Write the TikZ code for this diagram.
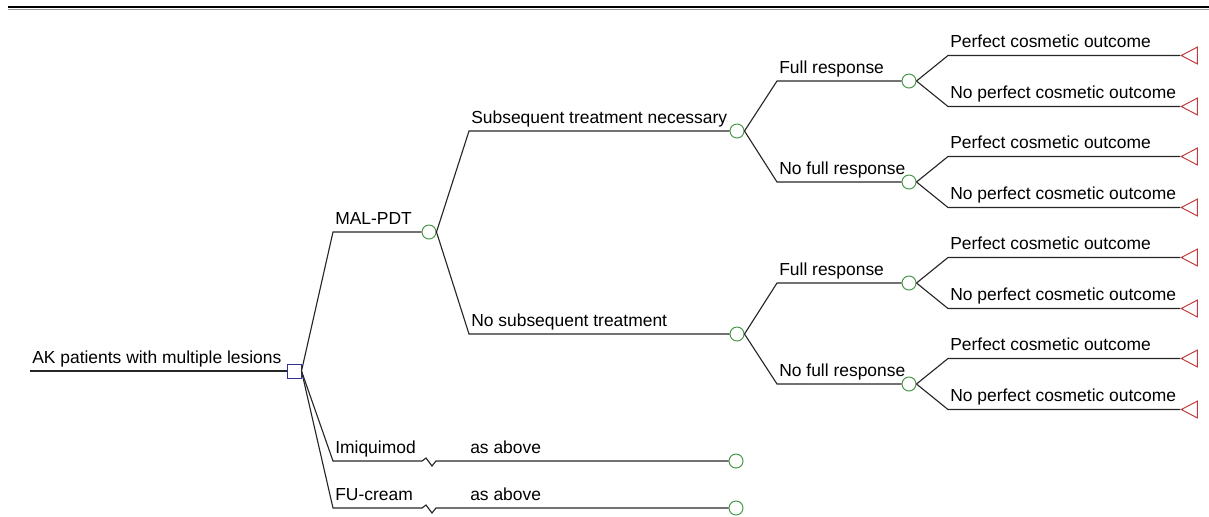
\documentclass[tikz,border=0pt]{standalone}
\usepackage{fontspec}
\setmainfont{Liberation Sans}
\definecolor{ChanceColor}{RGB}{70,150,70}
\definecolor{DecisionColor}{RGB}{50,50,150}
\definecolor{TerminalColor}{RGB}{190,60,60}
\definecolor{RuleGrey}{RGB}{150,150,150}
\usetikzlibrary{shapes.geometric, calc}
\tikzset{
    branch/.style={line width=0.8pt, draw=black!85},
    chance/.style={circle, draw=ChanceColor, line width=0.7pt, minimum size=0.35cm, inner sep=0pt},
    decision/.style={rectangle, draw=DecisionColor, line width=0.7pt, minimum size=0.35cm, inner sep=0pt},
    terminal/.style={isosceles triangle, shape border rotate=180, isosceles triangle stretches,
        draw=TerminalColor, line width=0.7pt, minimum height=0.4cm, minimum width=0.42cm, inner sep=0pt},
    lbl/.style={anchor=base west, inner sep=0pt, xshift=0.05cm, yshift=0.2cm,
        font=\fontsize{12.4}{15}\selectfont}
}

\begin{document}
\begin{tikzpicture}[x=0.025cm, y=-0.025cm]
        \useasboundingbox (0,0) rectangle (1209,516);
        
        % rule at the top
        \draw[line width=1.5pt] (8,7) -- (1209,7);
        \draw[RuleGrey, line width=0.4pt] (8,9.5) -- (1209,9.5);
        
        % root
        \coordinate (start) at (30,371);
        \node[decision] (dec) at (294,371) {};
        \draw[branch] (start) -- (dec);
        \node[lbl] at (start) {AK patients with multiple lesions};
        
        % MAL-PDT
        \coordinate (cPdt) at (333,232);
        \node[chance] (pdt) at (429,232) {};
        \draw[branch] (dec.east) -- (cPdt) -- (pdt);
        \node[lbl] at (cPdt) {MAL-PDT};
        
        % Imiquimod and FU-cream
        \coordinate (cImi) at (333,461);
        \node[chance] (imi) at (736,461) {};
        \draw[branch] (dec.east) -- (cImi) -- (422,461) -- (426,458) -- (432,466) -- (436,461) -- (imi);
        \node[lbl] at (cImi) {Imiquimod};
        \node[lbl] at (468,461) {as above};
        
        \coordinate (cFu) at (333,508);
        \node[chance] (fu) at (736,508) {};
        \draw[branch] (dec.east) -- (cFu) -- (422,508) -- (426,505) -- (432,513) -- (436,508) -- (fu);
        \node[lbl] at (cFu) {FU-cream};
        \node[lbl] at (468,508) {as above};
        
        % subsequent treatment
        \coordinate (cSub) at (469,131);
        \node[chance] (sub) at (737,131) {};
        \draw[branch] (pdt.east) -- (cSub) -- (sub);
        \node[lbl] at (cSub) {Subsequent treatment necessary};
        
        \coordinate (cNoSub) at (469,334);
        \node[chance] (nosub) at (737,334) {};
        \draw[branch] (pdt.east) -- (cNoSub) -- (nosub);
        \node[lbl] at (cNoSub) {No subsequent treatment};
        
        % response and cosmetic outcome
        \foreach \n/\y/\txt/\parent in {1/81/Full response/sub, 2/182/No full response/sub,
                                         3/283/Full response/nosub, 4/384/No full response/nosub} {
            \coordinate (cResp\n) at (777,\y);
            \node[chance] (resp\n) at (909,\y) {};
            \draw[branch] (\parent.east) -- (cResp\n) -- (resp\n);
            \node[lbl] at (cResp\n) {\txt};
            
            \coordinate (cPerf\n) at (948,\y-25.5);
            \coordinate (cNoPerf\n) at (948,\y+25.5);
            \node[terminal, anchor=apex] (tPerf\n) at (1180,\y-25.5) {};
            \node[terminal, anchor=apex] (tNoPerf\n) at (1180,\y+25.5) {};
            \draw[branch] (resp\n.east) -- (cPerf\n) -- (tPerf\n);
            \draw[branch] (resp\n.east) -- (cNoPerf\n) -- (tNoPerf\n);
            \node[lbl] at (cPerf\n) {Perfect cosmetic outcome};
            \node[lbl] at (cNoPerf\n) {No perfect cosmetic outcome};
        }
        
\end{tikzpicture}
\end{document}
